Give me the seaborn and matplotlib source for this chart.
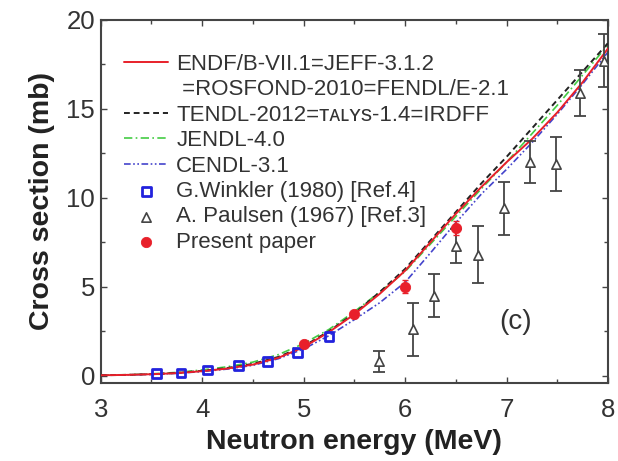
import numpy as np
import pandas as pd
import matplotlib
matplotlib.use("Agg")
import matplotlib.pyplot as plt
from matplotlib.lines import Line2D
import seaborn as sns
from matplotlib.ticker import MultipleLocator

# ---------------- data ----------------
energy_grid = [3.0, 3.25, 3.5, 3.75, 4.0, 4.25, 4.5, 4.75, 5.0, 5.25, 5.5,
               5.75, 6.0, 6.25, 6.5, 6.75, 7.0, 7.25, 7.5, 7.75, 8.0]
endf = [0.02, 0.04, 0.08, 0.14, 0.25, 0.40, 0.62, 1.00, 1.60, 2.45, 3.45,
        4.60, 5.90, 7.50, 9.10, 10.6, 12.0, 13.3, 14.8, 16.5, 18.4]
tendl = [0.02, 0.04, 0.08, 0.15, 0.27, 0.43, 0.66, 1.05, 1.65, 2.50, 3.50,
         4.70, 6.00, 7.60, 9.20, 10.8, 12.3, 13.9, 15.5, 17.1, 18.7]
jendl = [0.03, 0.05, 0.10, 0.18, 0.32, 0.50, 0.76, 1.18, 1.80, 2.60, 3.60,
         4.70, 5.85, 7.40, 8.95, 10.5, 12.0, 13.6, 15.2, 16.9, 18.6]
cendl = [0.02, 0.04, 0.07, 0.13, 0.23, 0.37, 0.58, 0.95, 1.50, 2.25, 3.15,
         4.10, 5.25, 6.90, 8.60, 10.2, 11.6, 13.1, 14.7, 16.4, 18.2]

winkler_e = [3.55, 3.79, 4.05, 4.36, 4.64, 4.94, 5.25]
winkler_cs = [0.10, 0.15, 0.32, 0.56, 0.80, 1.30, 2.20]

paulsen_e = [5.74, 6.08, 6.28, 6.50, 6.72, 6.97, 7.23, 7.49, 7.72, 7.96]
paulsen_cs = [0.8, 2.6, 4.5, 7.3, 6.8, 9.4, 12.0, 11.9, 15.9, 17.7]
paulsen_err = [0.6, 1.5, 1.2, 0.95, 1.6, 1.5, 1.2, 1.5, 1.3, 1.5]

present_e = [5.0, 5.5, 6.0, 6.5]
present_cs = [1.75, 3.45, 5.0, 8.3]
present_err = [0.15, 0.2, 0.35, 0.4]

labels = ["ENDF/B-VII.1=JEFF-3.1.2",
          "TENDL-2012=ᴛᴀʟʏs-1.4=IRDFF",
          "JENDL-4.0",
          "CENDL-3.1",
          "G.Winkler (1980) [Ref.4]",
          "A. Paulsen (1967) [Ref.3]",
          "Present paper"]
label_cont = " =ROSFOND-2010=FENDL/E-2.1"

# ---------------- style ----------------
sns.set_theme(style="ticks")
plt.rcParams["font.family"] = ["Liberation Sans", "DejaVu Sans"]
plt.rcParams["axes.edgecolor"] = "#444444"
plt.rcParams["xtick.color"] = "#444444"
plt.rcParams["ytick.color"] = "#444444"
plt.rcParams["xtick.labelcolor"] = "#333333"
plt.rcParams["ytick.labelcolor"] = "#333333"

fig = plt.figure(figsize=(6.18, 4.61), dpi=100)
ax = fig.add_axes([0.163, 0.169, 0.821, 0.788])

curves = pd.DataFrame({"E": energy_grid, "endf": endf, "tendl": tendl,
                       "jendl": jendl, "cendl": cendl})

sns.lineplot(data=curves, x="E", y="endf", ax=ax, color="#e8202a", lw=1.4,
             label=labels[0], zorder=4)
sns.lineplot(data=curves, x="E", y="tendl", ax=ax, color="#222222", lw=1.4,
             linestyle=(0, (3, 2)), label=labels[1], zorder=3)
sns.lineplot(data=curves, x="E", y="jendl", ax=ax, color="#44cc44", lw=1.2,
             linestyle=(0, (5, 2, 1, 2)), label=labels[2], zorder=2)
sns.lineplot(data=curves, x="E", y="cendl", ax=ax, color="#4444cc", lw=1.2,
             linestyle=(0, (4, 1.5, 1, 1.5, 1, 1.5)), label=labels[3], zorder=2)

wk = pd.DataFrame({"E": winkler_e, "cs": winkler_cs})
sns.scatterplot(data=wk, x="E", y="cs", ax=ax, marker="s", s=40,
                facecolor="none", edgecolor="#2222dd", linewidth=2.0,
                label=labels[4], zorder=5)

ax.errorbar(paulsen_e, paulsen_cs, yerr=paulsen_err, fmt="none",
            ecolor="#444444", elinewidth=1.3, capsize=4, capthick=1.3, zorder=5)
pl = pd.DataFrame({"E": paulsen_e, "cs": paulsen_cs})
sns.scatterplot(data=pl, x="E", y="cs", ax=ax, marker="^", s=45,
                facecolor="white", edgecolor="#444444", linewidth=1.2,
                label=labels[5], zorder=6)

ax.errorbar(present_e, present_cs, yerr=present_err, fmt="none",
            ecolor="#e8202a", elinewidth=1.2, capsize=2, zorder=6)
pr = pd.DataFrame({"E": present_e, "cs": present_cs})
sns.scatterplot(data=pr, x="E", y="cs", ax=ax, marker="o", s=55,
                color="#e8202a", edgecolor="#e8202a", label=labels[6], zorder=7)

ax.set_xlim(3, 8)
ax.set_ylim(-0.42, 20)
ax.xaxis.set_major_locator(MultipleLocator(1))
ax.xaxis.set_minor_locator(MultipleLocator(0.5))
ax.yaxis.set_major_locator(MultipleLocator(5))
ax.yaxis.set_minor_locator(MultipleLocator(2.5))
ax.tick_params(which="both", direction="in", top=True, right=True,
               labelsize=18.5, width=1.0)
ax.tick_params(which="major", length=4)
ax.tick_params(which="minor", length=3)
ax.tick_params(axis="x", which="major", pad=11)
ax.tick_params(axis="y", which="major", pad=4)
for sp in ax.spines.values():
    sp.set_visible(True)
    sp.set_linewidth(1.5)

ax.set_xlabel("Neutron energy (MeV)", fontsize=20.5, fontweight="bold",
              color="#222222", labelpad=5)
ax.set_ylabel("Cross section (mb)", fontsize=20.5, fontweight="bold",
              color="#222222", labelpad=8)

ax.text(7.09, 3.0, "(c)", fontsize=20, color="#333333", ha="center",
        va="center")

handles, labs = ax.get_legend_handles_labels()
handles.insert(1, Line2D([], [], linestyle="none", marker=None))
labs.insert(1, label_cont)
ax.legend(handles, labs, loc="upper left", frameon=False, fontsize=16,
          handlelength=2.0, handletextpad=0.35, labelspacing=0.2,
          borderaxespad=0.1, bbox_to_anchor=(0.024, 0.937),
          labelcolor="#333333")

fig.savefig("out.png", dpi=100)
